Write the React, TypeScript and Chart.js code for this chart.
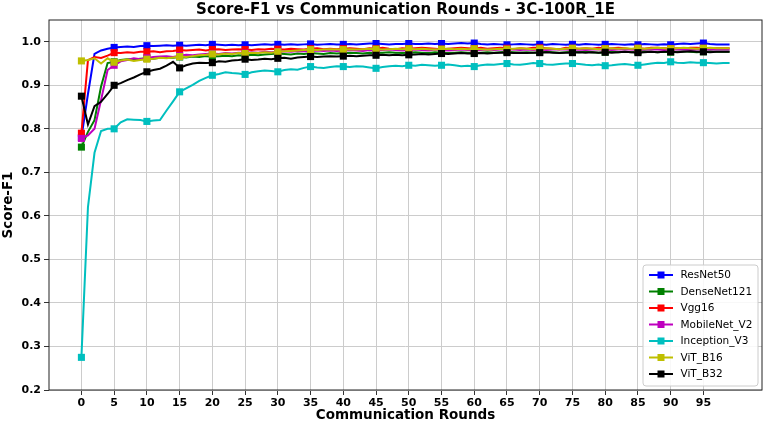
import React, { useEffect, useRef } from 'react';
import { Chart, registerables } from 'chart.js';

Chart.register(...registerables);

const TITLE = 'Score-F1 vs Communication Rounds - 3C-100R_1E';
const X_LABEL = 'Communication Rounds';
const Y_LABEL = 'Score-F1';

const xTicks = [0, 5, 10, 15, 20, 25, 30, 35, 40, 45, 50, 55, 60, 65, 70, 75, 80, 85, 90, 95];
const yTicks = [0.2, 0.3, 0.4, 0.5, 0.6, 0.7, 0.8, 0.9, 1.0];

const seriesNames = ['ResNet50', 'DenseNet121', 'Vgg16', 'MobileNet_V2', 'Inception_V3', 'ViT_B16', 'ViT_B32'];
const seriesColors = ['#0000ff', '#008000', '#ff0000', '#bf00bf', '#00bfbf', '#bfbf00', '#000000'];

const resnet50 = [
  0.780, 0.880, 0.972, 0.980, 0.984, 0.987, 0.988, 0.989, 0.988, 0.990,
  0.991, 0.990, 0.991, 0.992, 0.991, 0.992, 0.991, 0.992, 0.993, 0.992,
  0.994, 0.993, 0.992, 0.993, 0.992, 0.993, 0.992, 0.993, 0.994, 0.993,
  0.994, 0.993, 0.994, 0.993, 0.994, 0.995, 0.993, 0.994, 0.995, 0.994,
  0.994, 0.995, 0.994, 0.995, 0.996, 0.996, 0.995, 0.994, 0.995, 0.995,
  0.996, 0.995, 0.995, 0.996, 0.995, 0.996, 0.995, 0.996, 0.997, 0.996,
  0.997, 0.995, 0.994, 0.995, 0.994, 0.993, 0.994, 0.995, 0.994, 0.993,
  0.994, 0.993, 0.995, 0.994, 0.993, 0.994, 0.993, 0.995, 0.994, 0.993,
  0.994, 0.995, 0.994, 0.993, 0.994, 0.993, 0.995, 0.994, 0.993, 0.994,
  0.993, 0.995, 0.996, 0.995, 0.996, 0.997, 0.995, 0.994, 0.994, 0.994,
];

const densenet121 = [
  0.758, 0.793, 0.820, 0.897, 0.951, 0.954, 0.958, 0.960, 0.959, 0.961,
  0.962, 0.961, 0.963, 0.964, 0.963, 0.965, 0.964, 0.966, 0.965, 0.967,
  0.966, 0.967, 0.968, 0.967, 0.969, 0.968, 0.970, 0.969, 0.971, 0.972,
  0.973, 0.972, 0.971, 0.973, 0.972, 0.974, 0.973, 0.972, 0.974, 0.973,
  0.974, 0.975, 0.974, 0.973, 0.975, 0.974, 0.975, 0.976, 0.975, 0.974,
  0.975, 0.976, 0.975, 0.974, 0.976, 0.975, 0.974, 0.975, 0.976, 0.975,
  0.974, 0.975, 0.976, 0.975, 0.976, 0.977, 0.976, 0.975, 0.976, 0.975,
  0.976, 0.977, 0.976, 0.975, 0.976, 0.977, 0.976, 0.977, 0.976, 0.975,
  0.976, 0.977, 0.976, 0.977, 0.976, 0.977, 0.978, 0.977, 0.976, 0.977,
  0.976, 0.977, 0.978, 0.977, 0.976, 0.977, 0.978, 0.977, 0.977, 0.977,
];

const vgg16 = [
  0.790, 0.958, 0.965, 0.963, 0.968, 0.975, 0.974, 0.976, 0.975, 0.977,
  0.977, 0.978, 0.976, 0.978, 0.979, 0.981, 0.980, 0.981, 0.982, 0.980,
  0.982, 0.983, 0.981, 0.982, 0.983, 0.982, 0.981, 0.983, 0.982, 0.984,
  0.983, 0.982, 0.984, 0.983, 0.982, 0.984, 0.985, 0.983, 0.984, 0.983,
  0.984, 0.985, 0.984, 0.983, 0.985, 0.984, 0.986, 0.984, 0.983, 0.985,
  0.984, 0.985, 0.986, 0.985, 0.984, 0.983, 0.984, 0.985, 0.986, 0.985,
  0.984, 0.986, 0.984, 0.985, 0.986, 0.985, 0.983, 0.985, 0.984, 0.986,
  0.986, 0.985, 0.984, 0.983, 0.986, 0.985, 0.984, 0.985, 0.984, 0.986,
  0.984, 0.985, 0.986, 0.985, 0.983, 0.985, 0.984, 0.986, 0.986, 0.985,
  0.984, 0.985, 0.984, 0.986, 0.986, 0.985, 0.984, 0.985, 0.985, 0.985,
];

const mobilenetV2 = [
  0.778, 0.785, 0.800, 0.866, 0.935, 0.946, 0.955, 0.958, 0.962, 0.960,
  0.963, 0.965, 0.966, 0.967, 0.965, 0.968, 0.970, 0.969, 0.971, 0.972,
  0.973, 0.972, 0.974, 0.973, 0.975, 0.974, 0.976, 0.975, 0.977, 0.976,
  0.977, 0.978, 0.977, 0.979, 0.978, 0.979, 0.980, 0.979, 0.980, 0.979,
  0.980, 0.981, 0.980, 0.979, 0.981, 0.980, 0.981, 0.982, 0.981, 0.980,
  0.981, 0.982, 0.981, 0.980, 0.982, 0.981, 0.980, 0.981, 0.982, 0.981,
  0.980, 0.981, 0.982, 0.981, 0.982, 0.983, 0.982, 0.981, 0.982, 0.981,
  0.982, 0.981, 0.982, 0.983, 0.982, 0.981, 0.982, 0.981, 0.982, 0.983,
  0.982, 0.981, 0.982, 0.983, 0.982, 0.981, 0.982, 0.983, 0.982, 0.981,
  0.982, 0.983, 0.982, 0.981, 0.982, 0.983, 0.982, 0.982, 0.982, 0.982,
];

const inceptionV3 = [
  0.275, 0.620, 0.745, 0.795, 0.800, 0.800, 0.815, 0.822, 0.821, 0.820,
  0.817, 0.819, 0.820, 0.842, 0.863, 0.885, 0.893, 0.901, 0.910, 0.917,
  0.923, 0.926, 0.930, 0.928, 0.927, 0.925, 0.930, 0.932, 0.934, 0.933,
  0.931, 0.935, 0.937, 0.936, 0.940, 0.943, 0.941, 0.940, 0.942, 0.944,
  0.943, 0.942, 0.944, 0.943, 0.941, 0.939, 0.942, 0.944, 0.945, 0.944,
  0.946, 0.945, 0.947, 0.946, 0.945, 0.946, 0.948, 0.946, 0.944, 0.945,
  0.943, 0.946, 0.948, 0.947, 0.949, 0.950, 0.948, 0.947, 0.949, 0.951,
  0.950, 0.948, 0.947, 0.949, 0.950, 0.950, 0.949, 0.947, 0.946, 0.948,
  0.945, 0.946, 0.948, 0.949, 0.947, 0.946, 0.948, 0.950, 0.952, 0.951,
  0.954, 0.952, 0.951, 0.953, 0.952, 0.952, 0.951, 0.950, 0.951, 0.951,
];

const vitB16 = [
  0.956, 0.958, 0.962, 0.950, 0.962, 0.953, 0.957, 0.959, 0.956, 0.958,
  0.960, 0.961, 0.963, 0.962, 0.964, 0.966, 0.965, 0.967, 0.969, 0.970,
  0.972, 0.971, 0.973, 0.972, 0.974, 0.973, 0.975, 0.974, 0.976, 0.975,
  0.977, 0.978, 0.979, 0.980, 0.981, 0.982, 0.981, 0.982, 0.983, 0.982,
  0.982, 0.983, 0.982, 0.983, 0.984, 0.983, 0.982, 0.983, 0.984, 0.983,
  0.984, 0.983, 0.984, 0.983, 0.982, 0.983, 0.984, 0.983, 0.984, 0.983,
  0.984, 0.983, 0.982, 0.983, 0.984, 0.983, 0.984, 0.985, 0.984, 0.983,
  0.984, 0.985, 0.984, 0.983, 0.984, 0.985, 0.984, 0.985, 0.984, 0.983,
  0.984, 0.985, 0.984, 0.985, 0.984, 0.985, 0.984, 0.985, 0.986, 0.985,
  0.984, 0.985, 0.986, 0.985, 0.984, 0.985, 0.986, 0.985, 0.985, 0.985,
];

const vitB32 = [
  0.875, 0.810, 0.852, 0.862, 0.880, 0.900, 0.905, 0.912, 0.918, 0.925,
  0.931, 0.935, 0.938, 0.945, 0.954, 0.940, 0.946, 0.950, 0.952, 0.951,
  0.952, 0.955, 0.954, 0.957, 0.958, 0.960, 0.958, 0.959, 0.961, 0.960,
  0.962, 0.963, 0.961, 0.964, 0.965, 0.966, 0.965, 0.966, 0.967, 0.966,
  0.967, 0.968, 0.967, 0.968, 0.969, 0.969, 0.970, 0.969, 0.970, 0.969,
  0.970, 0.971, 0.972, 0.971, 0.972, 0.973, 0.972, 0.973, 0.974, 0.973,
  0.973, 0.974, 0.973, 0.974, 0.975, 0.975, 0.974, 0.975, 0.974, 0.975,
  0.975, 0.976, 0.975, 0.974, 0.975, 0.975, 0.976, 0.975, 0.976, 0.975,
  0.976, 0.975, 0.976, 0.977, 0.976, 0.975, 0.976, 0.977, 0.976, 0.977,
  0.977, 0.976, 0.977, 0.978, 0.977, 0.977, 0.976, 0.977, 0.977, 0.977,
];

const seriesValues = [resnet50, densenet121, vgg16, mobilenetV2, inceptionV3, vitB16, vitB32];

const FONT = '"DejaVu Sans", sans-serif';

const decorPlugin = {
  id: 'decor',
  afterDraw(chart: any) {
    const { ctx, chartArea: a } = chart;
    ctx.save();
    // frame (spines)
    ctx.strokeStyle = '#222222';
    ctx.lineWidth = 1;
    ctx.strokeRect(a.left, a.top, a.right - a.left, a.bottom - a.top);

    // title centred on the plot area
    ctx.fillStyle = '#000';
    ctx.font = `bold 15px ${FONT}`;
    ctx.textAlign = 'center';
    ctx.textBaseline = 'middle';
    ctx.fillText(TITLE, (a.left + a.right) / 2, 10);

    // legend
    const bw = 115;
    const bh = 121;
    const bx = a.right - 4 - bw;
    const by = a.bottom - 4 - bh;
    ctx.beginPath();
    ctx.roundRect(bx, by, bw, bh, 3);
    ctx.fillStyle = 'rgba(255,255,255,0.85)';
    ctx.fill();
    ctx.strokeStyle = '#cccccc';
    ctx.lineWidth = 1;
    ctx.stroke();
    ctx.font = `10.5px ${FONT}`;
    ctx.textAlign = 'left';
    ctx.textBaseline = 'middle';
    for (let i = 0; i < seriesNames.length; i++) {
      const cy = by + 10 + i * 16.5;
      const col = seriesColors[i];
      ctx.strokeStyle = col;
      ctx.lineWidth = 2;
      ctx.beginPath();
      ctx.moveTo(bx + 6, cy);
      ctx.lineTo(bx + 30, cy);
      ctx.stroke();
      ctx.fillStyle = col;
      ctx.fillRect(bx + 18 - 3.5, cy - 3.5, 7, 7);
      ctx.fillStyle = '#000';
      ctx.fillText(seriesNames[i], bx + 37.5, cy + 0.5);
    }
    ctx.restore();
  },
};

export default function App() {
  const canvasRef = useRef<HTMLCanvasElement | null>(null);

  useEffect(() => {
    document.body.style.margin = '0';
    const canvas = canvasRef.current;
    if (!canvas) return;

    const datasets = seriesNames.map((name, i) => ({
      label: name,
      data: seriesValues[i].map((v, r) => ({ x: r, y: v })),
      borderColor: seriesColors[i],
      backgroundColor: seriesColors[i],
      borderWidth: 2,
      pointStyle: 'rect',
      pointRadius: (c: any) => (c.dataIndex % 5 === 0 ? 5 : 0),
      pointBorderWidth: 0,
      pointBackgroundColor: seriesColors[i],
      pointHoverRadius: 0,
      tension: 0,
      fill: false,
      order: seriesNames.length - i,
    }));

    const chart = new Chart(canvas, {
      type: 'line',
      data: { datasets },
      options: {
        responsive: false,
        animation: false,
        events: [],
        layout: { padding: { top: 20, right: 3, left: 0, bottom: 0 } },
        plugins: {
          legend: { display: false },
          title: { display: false },
          tooltip: { enabled: false },
        },
        scales: {
          x: {
            type: 'linear',
            min: -4.95,
            max: 103.95,
            afterBuildTicks: (scale: any) => {
              scale.ticks = xTicks.map((v) => ({ value: v }));
            },
            afterFit: (scale: any) => {
              scale.height = 35;
            },
            ticks: {
              autoSkip: false,
              maxRotation: 0,
              padding: 2,
              color: '#000',
              font: { family: FONT, size: 11, weight: 'bold' },
              callback: (v: any) => String(v),
            },
            grid: { color: '#cccccc', lineWidth: 1, tickLength: 5, tickColor: '#333333' },
            border: { display: false },
            title: {
              display: true,
              text: X_LABEL,
              color: '#000',
              font: { family: FONT, size: 13.5, weight: 'bold' },
              padding: { top: 0, bottom: 1 },
            },
          },
          y: {
            type: 'linear',
            min: 0.2,
            max: 1.05,
            afterBuildTicks: (scale: any) => {
              scale.ticks = yTicks.map((v) => ({ value: v }));
            },
            afterFit: (scale: any) => {
              scale.width = 49;
            },
            ticks: {
              padding: 3,
              color: '#000',
              font: { family: FONT, size: 11, weight: 'bold' },
              callback: (v: any) => Number(v).toFixed(1),
            },
            grid: { color: '#cccccc', lineWidth: 1, tickLength: 5, tickColor: '#333333' },
            border: { display: false },
            title: {
              display: true,
              text: Y_LABEL,
              color: '#000',
              font: { family: FONT, size: 13.5, weight: 'bold' },
              padding: { top: 0, bottom: 0 },
            },
          },
        },
      },
      plugins: [decorPlugin],
    } as any);

    return () => chart.destroy();
  }, []);

  return (
    <div style={{ width: 767, height: 425, position: 'relative' }}>
      <canvas ref={canvasRef} width={767} height={425} style={{ display: 'block' }} />
    </div>
  );
}
